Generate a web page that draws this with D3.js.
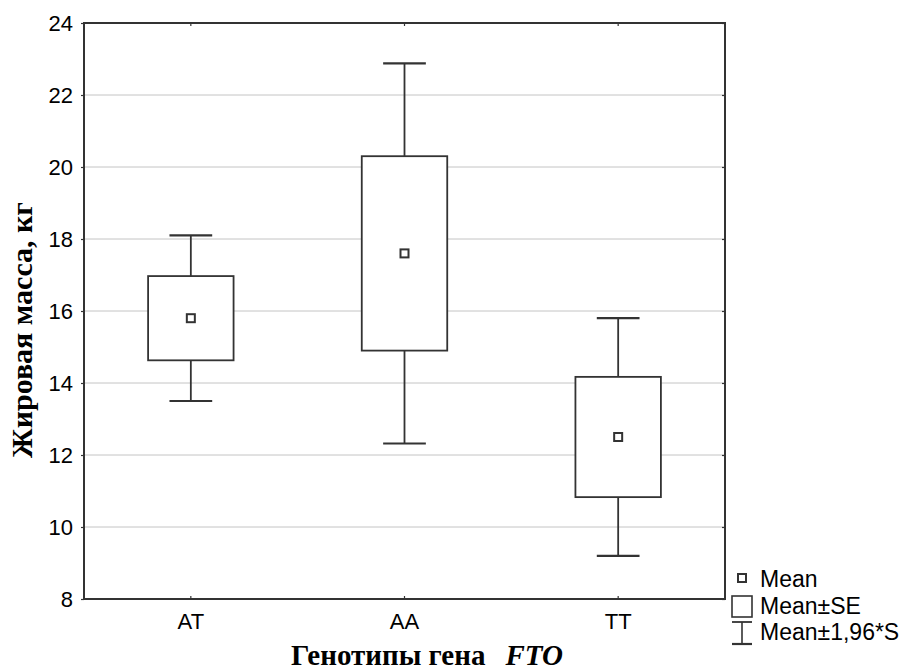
<!DOCTYPE html>
<html>
<head>
<meta charset="utf-8">
<script src="https://cdn.jsdelivr.net/npm/d3@7"></script>
<style>
  body { margin: 0; background: #fff; }
</style>
</head>
<body>
<script>
// Data
const genotypes = ["AT", "AA", "TT"];
const means = [15.8, 17.6, 12.5];
const se = [1.17, 2.7, 1.67];          // half-height of the box
const ci = [2.3, 5.28, 3.3];           // half-height of the whiskers (1.96*SD)
const yTicks = [8, 10, 12, 14, 16, 18, 20, 22, 24];
const legendLabels = ["Mean", "Mean±SE", "Mean±1,96*S"];

const data = genotypes.map((g, i) => ({ g, mean: means[i], se: se[i], ci: ci[i] }));

// Chart dimensions
const width = 902;
const height = 672;
const marginTop = 23;
const marginRight = 177;
const marginBottom = 73;
const marginLeft = 84;

const stroke = "#333";
const sans = "Liberation Sans, Arial, sans-serif";
const serif = "Liberation Serif, Times New Roman, serif";

const x = d3.scaleBand()
  .domain(genotypes)
  .range([marginLeft, width - marginRight])
  .padding(0);

const y = d3.scaleLinear()
  .domain([8, 24])
  .range([height - marginBottom, marginTop]);

const svg = d3.select("body")
  .append("svg")
  .attr("width", width)
  .attr("height", height)
  .attr("viewBox", [0, 0, width, height]);

// Grid lines
svg.append("g")
  .selectAll("line")
  .data(yTicks.slice(1, -1))
  .join("line")
  .attr("x1", marginLeft)
  .attr("x2", width - marginRight)
  .attr("y1", d => y(d))
  .attr("y2", d => y(d))
  .attr("stroke", "#c4c4c4")
  .attr("stroke-width", 1);

// Axes
const yAxis = svg.append("g")
  .attr("transform", `translate(${marginLeft},0)`)
  .call(d3.axisLeft(y).tickValues(yTicks).tickSize(3).tickPadding(8).tickSizeOuter(0));
const yAxisR = svg.append("g")
  .attr("transform", `translate(${width - marginRight},0)`)
  .call(d3.axisLeft(y).tickValues(yTicks).tickSize(3).tickFormat("").tickSizeOuter(0));
const xAxis = svg.append("g")
  .attr("transform", `translate(0,${height - marginBottom})`)
  .call(d3.axisTop(x).tickSize(3).tickSizeOuter(0));
const xAxisT = svg.append("g")
  .attr("transform", `translate(0,${marginTop})`)
  .call(d3.axisBottom(x).tickSize(3).tickFormat("").tickSizeOuter(0));

[yAxis, yAxisR, xAxis, xAxisT].forEach(a => {
  a.select(".domain").remove();
  a.selectAll(".tick line").attr("stroke", stroke).attr("stroke-width", 1.2);
});
yAxis.selectAll(".tick text")
  .attr("font-family", sans).attr("font-size", 22).attr("fill", "#000");
xAxis.selectAll(".tick text")
  .attr("font-family", sans).attr("font-size", 22).attr("fill", "#000")
  .attr("y", 14).attr("dy", "0.71em");

// Frame
svg.append("rect")
  .attr("x", marginLeft)
  .attr("y", marginTop)
  .attr("width", width - marginLeft - marginRight)
  .attr("height", height - marginTop - marginBottom)
  .attr("fill", "none")
  .attr("stroke", stroke)
  .attr("stroke-width", 2);

// Boxes and whiskers
const boxW = x.bandwidth() * 0.4;
const capW = boxW / 2;
const g = svg.append("g")
  .selectAll("g")
  .data(data)
  .join("g")
  .attr("transform", d => `translate(${x(d.g) + x.bandwidth() / 2},0)`)
  .attr("stroke", stroke)
  .attr("stroke-width", 1.8)
  .attr("fill", "none");

g.append("line")
  .attr("y1", d => y(d.mean + d.ci))
  .attr("y2", d => y(d.mean - d.ci));
g.append("line")
  .attr("x1", -capW / 2).attr("x2", capW / 2)
  .attr("y1", d => y(d.mean + d.ci)).attr("y2", d => y(d.mean + d.ci))
  .attr("stroke-width", 2.2);
g.append("line")
  .attr("x1", -capW / 2).attr("x2", capW / 2)
  .attr("y1", d => y(d.mean - d.ci)).attr("y2", d => y(d.mean - d.ci))
  .attr("stroke-width", 2.2);
g.append("rect")
  .attr("x", -boxW / 2)
  .attr("width", boxW)
  .attr("y", d => y(d.mean + d.se))
  .attr("height", d => y(d.mean - d.se) - y(d.mean + d.se))
  .attr("fill", "#fff");
g.append("rect")
  .attr("x", -4).attr("width", 8)
  .attr("y", d => y(d.mean) - 4).attr("height", 8)
  .attr("fill", "#fff")
  .attr("stroke-width", 2);

// Legend
const lx = 742;
const legend = svg.append("g").attr("stroke", stroke).attr("fill", "#fff");
legend.append("rect").attr("x", lx - 4).attr("y", 574).attr("width", 8).attr("height", 8).attr("stroke-width", 2);
legend.append("rect").attr("x", lx - 10).attr("y", 596).attr("width", 20).attr("height", 21).attr("stroke-width", 1.6);
legend.append("line").attr("x1", lx).attr("x2", lx).attr("y1", 622).attr("y2", 644).attr("stroke-width", 1.6);
legend.append("line").attr("x1", lx - 10).attr("x2", lx + 10).attr("y1", 622).attr("y2", 622).attr("stroke-width", 1.8);
legend.append("line").attr("x1", lx - 10).attr("x2", lx + 10).attr("y1", 644).attr("y2", 644).attr("stroke-width", 2.2);

svg.append("g")
  .selectAll("text")
  .data(legendLabels)
  .join("text")
  .attr("x", 760)
  .attr("y", (d, i) => 587 + i * 26.5)
  .attr("font-family", sans)
  .attr("font-size", 23)
  .attr("fill", "#000")
  .text(d => d);

// Axis titles
svg.append("text")
  .attr("transform", `translate(32,${330}) rotate(-90)`)
  .attr("text-anchor", "middle")
  .attr("font-family", serif)
  .attr("font-weight", "bold")
  .attr("font-size", 30)
  .attr("fill", "#000")
  .text("Жировая масса, кг");

const xt = svg.append("text")
  .attr("x", 427)
  .attr("y", 665)
  .attr("text-anchor", "middle")
  .attr("font-family", serif)
  .attr("font-weight", "bold")
  .attr("font-size", 29)
  .attr("fill", "#000");
xt.append("tspan").text("Генотипы гена");
xt.append("tspan").attr("dx", 20).attr("font-style", "italic").text("FTO");
</script>
</body>
</html>
